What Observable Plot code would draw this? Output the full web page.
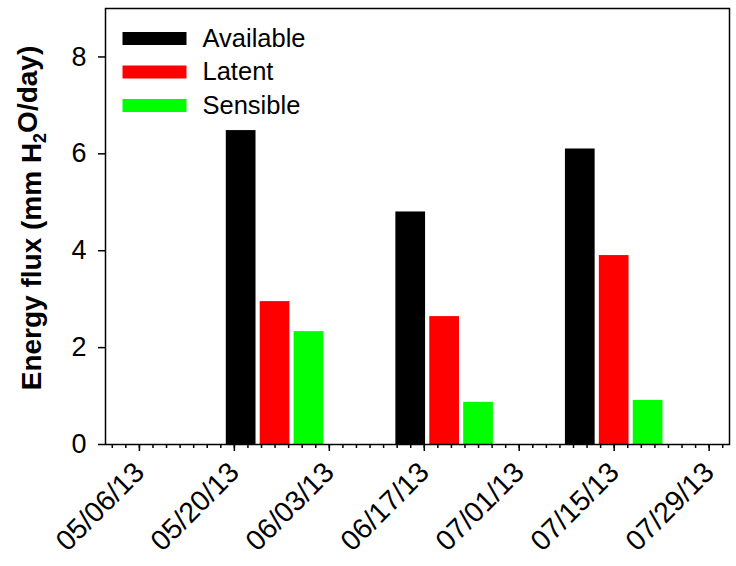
<!DOCTYPE html>
<html><head><meta charset="utf-8">
<script src="https://cdn.jsdelivr.net/npm/d3@7"></script>
<script src="https://cdn.jsdelivr.net/npm/@observablehq/plot@0.6"></script>
<style>body{margin:0;background:#fff}</style>
</head><body><div id="chart"></div>
<script>
// Data
const seriesNames = ["Available", "Latent", "Sensible"];
const seriesColors = ["#000000", "#ff0000", "#00ff00"];
const availableDates = ["2013-05-21", "2013-06-15", "2013-07-10"];
const availableValues = [6.48, 4.80, 6.10];
const latentDates = ["2013-05-26", "2013-06-20", "2013-07-15"];
const latentValues = [2.95, 2.64, 3.90];
const sensibleDates = ["2013-05-31", "2013-06-25", "2013-07-20"];
const sensibleValues = [2.33, 0.87, 0.91];
const yTicks = [0, 2, 4, 6, 8];
const majorTickLabels = ["05/06/13", "05/20/13", "06/03/13", "06/17/13", "07/01/13", "07/15/13", "07/29/13"];
const xDomain = ["2013-05-01", "2013-08-01"];

const parse = d3.utcParse("%Y-%m-%d");
const parseTick = d3.utcParse("%m/%d/%y");
const DAY = 864e5;
const halfWidth = 2.19 * DAY;

const allDates = [availableDates, latentDates, sensibleDates];
const allValues = [availableValues, latentValues, sensibleValues];
const data = seriesNames.flatMap((s, i) => allDates[i].map((d, j) => ({
  series: s, date: parse(d), value: allValues[i][j], color: seriesColors[i]
})));

const majorTicks = majorTickLabels.map(parseTick);
const domain = xDomain.map(parse);
const minorTicks = d3.utcDay.range(new Date(+domain[0] + DAY), domain[1], 2);

const swatch = {draw(ctx) { ctx.moveTo(-32, -6.5); ctx.lineTo(32, -6.5); ctx.lineTo(32, 6.5); ctx.lineTo(-32, 6.5); ctx.closePath(); }};

const legendMarks = seriesNames.flatMap((s, i) => [
  Plot.dot([s], {frameAnchor: "top-left", dx: 49, dy: 30 + i * 33.5, symbol: swatch, fill: seriesColors[i], stroke: "none", r: 5}),
  Plot.text([s], {frameAnchor: "top-left", dx: 97, dy: 30 + i * 33.5, text: d => d, textAnchor: "start", lineAnchor: "middle", fontSize: 25.5, fill: "#000"})
]);

const svg = Plot.plot({
  width: 736, height: 566,
  marginLeft: 105, marginRight: 7, marginTop: 8, marginBottom: 122,
  style: {fontFamily: "'Liberation Sans', Arial, sans-serif", fontSize: "27px", background: "#fff", color: "#000"},
  x: {type: "utc", domain},
  y: {domain: [0, 9]},
  marks: [
    Plot.rectY(data, {x1: d => new Date(+d.date - halfWidth), x2: d => new Date(+d.date + halfWidth), y: "value", fill: "color"}),
    Plot.frame({stroke: "#000", strokeWidth: 1.5}),
    Plot.axisY({ticks: yTicks, tickSize: 7, tickPadding: 12, label: null, strokeWidth: 1.5, fontSize: 27}),
    Plot.axisX({ticks: minorTicks, tickSize: 4, tickFormat: () => "", label: null, strokeWidth: 1.5}),
    Plot.axisX({ticks: majorTicks, tickSize: 7, tickPadding: 16, tickFormat: d3.utcFormat("%m/%d/%y"), tickRotate: -45, label: null, strokeWidth: 1.5, fontSize: 28.5}),
    ...legendMarks
  ]
});

const t = d3.select(svg).append("text")
  .attr("transform", "translate(34,218) rotate(-90)")
  .attr("text-anchor", "middle")
  .attr("dominant-baseline", "middle")
  .attr("font-weight", "bold")
  .attr("font-size", 28)
  .attr("font-family", "'Liberation Sans', Arial, sans-serif")
  .attr("fill", "#000");
t.append("tspan").text("Energy flux (mm H");
t.append("tspan").attr("font-size", 18).attr("dy", "0.4em").text("2");
t.append("tspan").attr("dy", "-0.4em").text("O/day)");

document.getElementById("chart").appendChild(svg);
</script>
</body></html>
